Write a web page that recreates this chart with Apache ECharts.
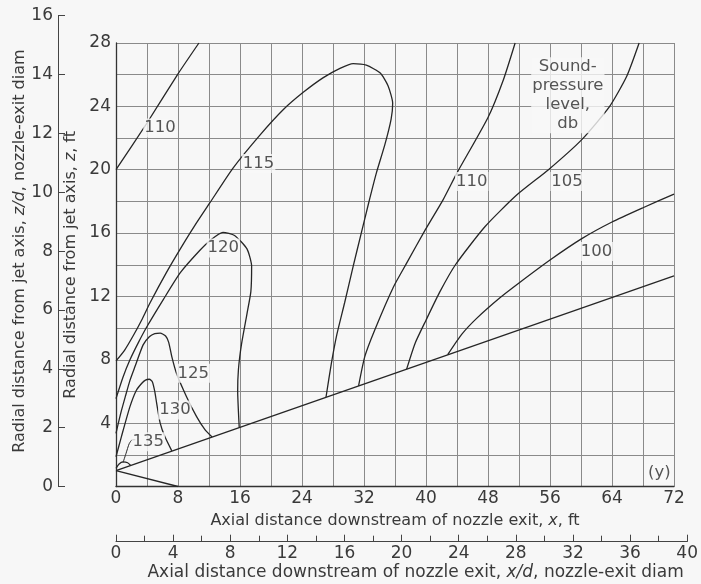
<!DOCTYPE html>
<html><head><meta charset="utf-8">
<script src="https://cdn.jsdelivr.net/npm/echarts@6/dist/echarts.min.js"></script>
<style>html,body{margin:0;padding:0;background:#f7f7f7}#c{width:701px;height:584px}</style>
</head><body><div id="c"></div>
<script>
// ---- data (x = axial distance ft, z = radial distance ft) ----
const jetBoundary = [[0,1.0],[72,13.3]];
const coreBoundary = [[0,1.0],[8,0]];
const spl135 = [[0,1.15],[0.4,1.42],[0.9,1.55],[1.5,1.5],[1.9,1.33]];
const leader135 = [[0.9,1.5],[1.3,2.1],[1.7,2.7],[2.1,2.95],[2.5,2.95]];
const spl130 = [[0,1.88],[0.7,3.15],[1.8,5.04],[2.6,6.05],[3.3,6.5],[3.8,6.72],[4.3,6.77],[4.7,6.6],[5.0,6.0],[5.25,5.25],[5.7,4.0],[6.3,3.15],[7.2,2.25]];
const spl125 = [[0,3.36],[0.6,4.6],[1.2,5.67],[1.8,6.7],[2.45,7.57],[3.5,8.94],[4.3,9.45],[5.0,9.65],[5.7,9.68],[6.4,9.5],[6.8,9.1],[7.2,8.2],[7.8,7.15],[9.1,5.67],[10.4,4.41],[11.5,3.57],[12.4,3.12]];
const spl120 = [[0,5.55],[0.9,6.9],[1.8,8.0],[2.9,9.1],[4,10.1],[6.1,11.8],[8.3,13.5],[10.8,14.9],[12.3,15.6],[13.8,16.05],[15.3,15.85],[16.9,15.0],[17.5,13.9],[17.4,12.3],[16.9,10.9],[16.2,9.0],[15.8,7.4],[15.7,6.0],[15.8,4.7],[15.9,3.72]];
const spl115 = [[0,7.93],[1.1,8.6],[2.2,9.5],[3.3,10.5],[4.4,11.6],[6.5,13.5],[8.3,15.0],[10.2,16.5],[12.1,17.9],[15.1,20.1],[18.6,22.2],[21.6,23.8],[24.2,24.9],[26.7,25.8],[28.9,26.4],[30.6,26.7],[32.3,26.6],[34.1,26.1],[35.1,25.3],[35.7,24.2],[35.5,23.2],[34.7,21.6],[33.6,19.8],[32.6,17.9],[31.6,15.9],[30.6,13.9],[29.5,11.6],[28.5,9.6],[27.8,7.8],[27.1,5.65]];
const spl110a = [[0,20],[4,22.95],[8,26.05],[10.7,28]];
const spl110b = [[31.3,6.35],[32.1,8.2],[33.4,9.9],[35.8,12.6],[37.5,14.1],[39.9,16.2],[42.2,18.1],[44,19.8],[48,23.3],[50,25.7],[51.5,28]];
const spl105 = [[37.5,7.41],[38.6,9.05],[40.0,10.5],[41.8,12.3],[43.8,14.0],[47.6,16.4],[51.7,18.4],[55.8,20.0],[60.1,21.9],[63.7,24.0],[65.9,25.9],[67.5,28]];
const spl100 = [[42.8,8.32],[44.6,9.6],[46.5,10.6],[49.5,11.9],[52,12.85],[56,14.3],[60.1,15.65],[64,16.7],[68,17.6],[72,18.46]];

// contour labels: text and anchor (x ft, z ft)
const labelText = ['110','115','120','125','130','135','110','105','100','(y)','Sound-\npressure\nlevel,\ndb'];
const labelX    = [5.68, 18.4, 13.85, 9.97, 7.6, 4.17, 45.9, 58.2, 62.0, 70.1, 58.3];
const labelZ    = [22.63, 20.4, 15.05, 7.15, 4.83, 2.83, 19.25, 19.25, 14.83, 0.87, 24.7];

// tick labels
const xFtLabels = [0,8,16,24,32,40,48,56,64,72];
const zFtLabels = [4,8,12,16,20,24,28];

const FONT = 'DejaVu Sans';
const TXT = '#3a3a3a';
const GRIDC = '#8a8a8a';
const LINEC = '#262626';
const BG = '#f7f7f7';

function lineSeries(data, w) {
  return {type:'line', xAxisIndex:0, yAxisIndex:0, data:data, showSymbol:false, symbol:'none',
    smooth:0.2, silent:true, animation:false, z:3,
    lineStyle:{color:LINEC, width:w||1.3}};
}

const chart = echarts.init(document.getElementById('c'), null, {renderer:'canvas'});
const rich16 = {i:{fontStyle:'italic', fontSize:16, fontFamily:FONT, color:TXT}};
const rich17 = {i:{fontStyle:'italic', fontSize:17, fontFamily:FONT, color:TXT}};
chart.setOption({
  backgroundColor: BG,
  animation:false,
  textStyle:{fontFamily:FONT, color:TXT},
  grid:[
    {left:116, top:43, width:558, height:443.5},
    {left:58, top:15.7, width:1, height:470.8},
    {left:116, top:520, width:574, height:21.7}
  ],
  xAxis:[
    {gridIndex:0, type:'value', min:0, max:72, interval:4,
     axisLine:{show:true, lineStyle:{color:'#333', width:1.3}},
     axisTick:{show:false},
     axisLabel:{fontSize:17, color:TXT, fontFamily:FONT, margin:4,
       formatter:v=> xFtLabels.indexOf(v)>=0 ? String(v) : ''},
     splitLine:{show:true, lineStyle:{color:GRIDC, width:1}},
     name:'Axial distance downstream of nozzle exit, {i|x}, ft',
     nameLocation:'middle', nameGap:24,
     nameTextStyle:{fontSize:16, color:TXT, fontFamily:FONT, rich:rich16}},
    {gridIndex:1, type:'value', min:0, max:1, show:false},
    {gridIndex:2, type:'value', min:0, max:40, interval:4,
     axisLine:{show:true, lineStyle:{color:'#444', width:1}},
     axisTick:{show:true, inside:true, length:7, lineStyle:{color:'#444'}},
     minorTick:{show:true, splitNumber:2, length:6, lineStyle:{color:'#444'}},
     axisLabel:{fontSize:17, color:TXT, fontFamily:FONT, margin:3},
     splitLine:{show:false},
     name:'Axial distance downstream of nozzle exit, {i|x/d}, nozzle-exit diam',
     nameLocation:'middle', nameGap:22,
     nameTextStyle:{fontSize:17, color:TXT, fontFamily:FONT, rich:rich17, padding:[0,0,0,28]}}
  ],
  yAxis:[
    {gridIndex:0, type:'value', min:0, max:28, interval:2,
     axisLine:{show:true, lineStyle:{color:'#333', width:1.3}},
     axisTick:{show:false},
     axisLabel:{fontSize:17, color:TXT, fontFamily:FONT, margin:5,
       formatter:v=> zFtLabels.indexOf(v)>=0 ? String(v) : ''},
     splitLine:{show:true, lineStyle:{color:GRIDC, width:1}},
     name:'Radial distance from jet axis, {i|z}, ft',
     nameLocation:'middle', nameGap:30,
     nameTextStyle:{fontSize:16, color:TXT, fontFamily:FONT, rich:rich16}},
    {gridIndex:1, type:'value', min:0, max:16, interval:2,
     axisLine:{show:true, lineStyle:{color:'#444', width:1}},
     axisTick:{show:true, inside:true, length:7, lineStyle:{color:'#444'}},
     axisLabel:{fontSize:17, color:TXT, fontFamily:FONT, margin:5},
     splitLine:{show:false},
     name:'Radial distance from jet axis, {i|z/d}, nozzle-exit diam',
     nameLocation:'middle', nameGap:28,
     nameTextStyle:{fontSize:16, color:TXT, fontFamily:FONT, rich:rich16}},
    {gridIndex:2, type:'value', min:0, max:1, show:false}
  ],
  series:[
    lineSeries(jetBoundary,1.3),
    lineSeries(coreBoundary,1.3),
    lineSeries(spl135),
    lineSeries(leader135,1),
    lineSeries(spl130),
    lineSeries(spl125),
    lineSeries(spl120),
    lineSeries(spl115),
    lineSeries(spl110a),
    lineSeries(spl110b),
    lineSeries(spl105),
    lineSeries(spl100),
    {type:'scatter', xAxisIndex:0, yAxisIndex:0, silent:true, animation:false, z:5,
     symbol:'circle', symbolSize:1, itemStyle:{color:'rgba(0,0,0,0)'},
     data: labelText.map((t,k)=>({value:[labelX[k], labelZ[k]], name:t})),
     label:{show:true, position:'inside', formatter:p=>p.name,
       fontSize:16.5, fontFamily:FONT, color:'#2a2a2a', textBorderWidth:0, lineHeight:19,
       align:'center', verticalAlign:'middle', backgroundColor:BG, padding:[0,1]},
     labelLayout:{hideOverlap:false}}
  ]
});
</script></body></html>
